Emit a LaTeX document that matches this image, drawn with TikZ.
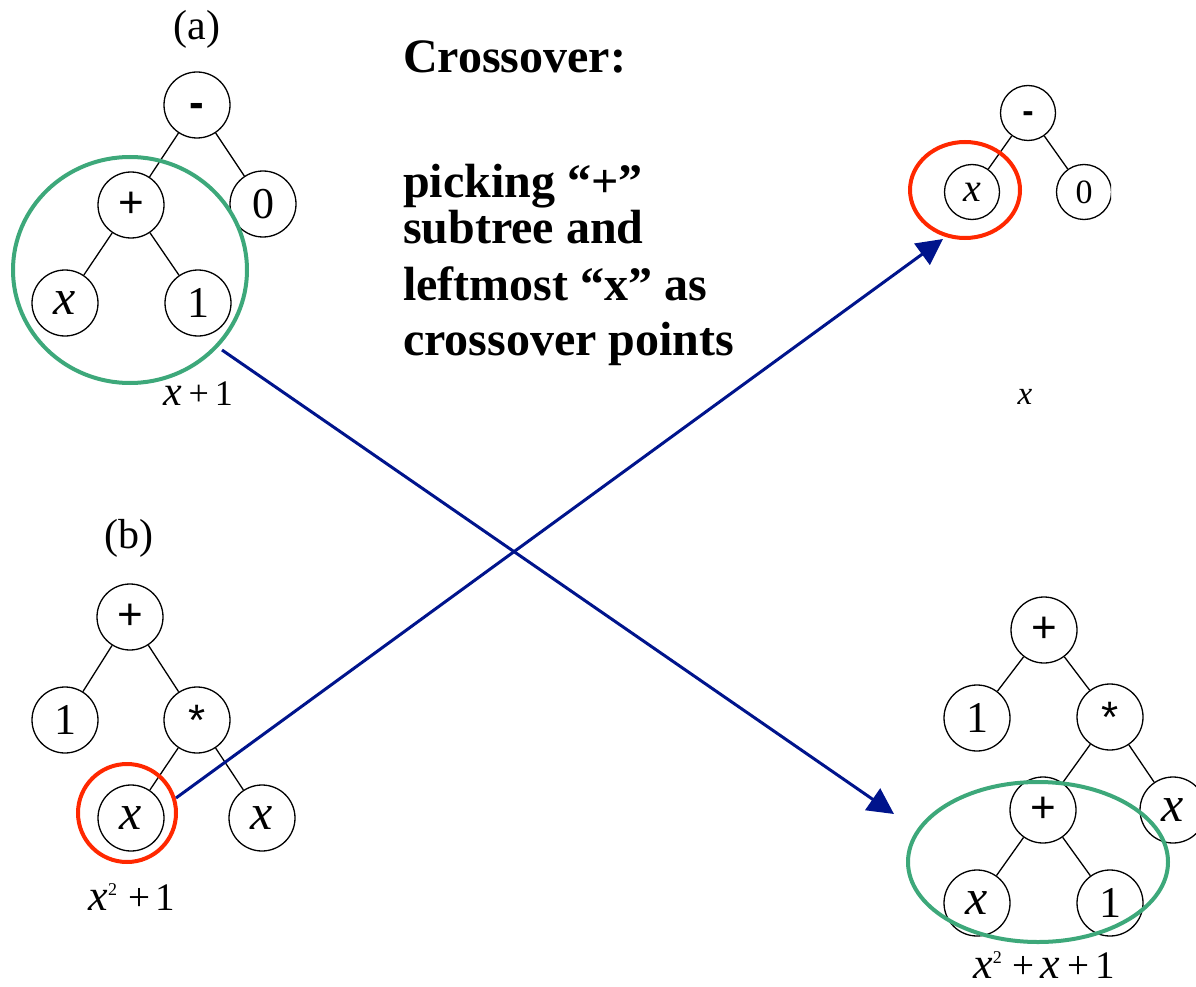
\documentclass[tikz,border=0pt]{standalone}
\usepackage{fontspec}
\setmainfont{Liberation Serif}
\newfontfamily\symfont{Liberation Sans}
\usetikzlibrary{arrows.meta}

\definecolor{ringgreen}{RGB}{61,168,122}
\definecolor{ringred}{RGB}{255,40,0}
\definecolor{arrowblue}{RGB}{0,20,140}

% italic variable at a given size
\newcommand\xv[1]{{\fontsize{#1}{#1}\selectfont\itshape x}}
% small superscript two
\newcommand\sq[1]{\raisebox{#1}{\fontsize{18}{18}\selectfont 2}}
% operator symbols inside tree nodes
\newcommand\opplus{{\symfont +}}
\newcommand\opminus{{\symfont\bfseries\raisebox{0pt}[0.56em][0pt]{-}}}
\newcommand\optimes{{\symfont *}}

\tikzset{
  tnode/.style={circle, draw=black, line width=1.3pt, fill=white,
    minimum size=66pt, inner sep=0pt, font=\fontsize{44}{44}\selectfont},
  tsmall/.style={tnode, minimum size=55pt, font=\fontsize{34}{34}\selectfont},
  tedge/.style={line width=1.3pt},
  greenring/.style={draw=ringgreen, line width=4pt},
  redring/.style={draw=ringred, line width=4pt},
  xarrow/.style={draw=arrowblue, line width=3pt,
    -{Triangle[length=26pt,width=26pt]}},
  treecap/.style={inner sep=0pt, font=\fontsize{36}{36}\selectfont},
  tag/.style={inner sep=0pt, font=\fontsize{42}{42}\selectfont},
  boldline/.style={anchor=base west, inner sep=0pt,
    font=\fontsize{48}{48}\selectfont\bfseries}
}

\begin{document}
\begin{tikzpicture}[x=1pt, y=-1pt]
\useasboundingbox (0,0) rectangle (1196,987);

% ---------- tree (a): x+1 - 0 ----------
\node[tag] (capa) at (197,29) {(a)};
\node[tnode] (a0) at (197,105) {\opminus};
\node[tnode] (a1) at (131,205) {\opplus};
\node[tnode] (a2) at (263,204) {0};
\node[tnode] (a3) at (65,303) {\xv{50}};
\node[tnode] (a4) at (198,303) {1};
\draw[tedge] (a0) -- (a1);
\draw[tedge] (a0) -- (a2);
\draw[tedge] (a1) -- (a3);
\draw[tedge] (a1) -- (a4);
\node[treecap] (fa) at (198,394) {\fontsize{36}{36}\selectfont\xv{42}\hspace{7pt}+\hspace{6pt}1};
\draw[greenring] (130,270) ellipse [x radius=117, y radius=113];

% ---------- tree (b): 1 + x*x ----------
\node[tag] (capb) at (129,538) {(b)};
\node[tnode] (b0) at (130,617) {\opplus};
\node[tnode] (b1) at (65,720) {1};
\node[tnode] (b2) at (197,720) {\optimes};
\node[tnode] (b3) at (131,818) {\xv{50}};
\node[tnode] (b4) at (262,818) {\xv{50}};
\draw[tedge] (b0) -- (b1);
\draw[tedge] (b0) -- (b2);
\draw[tedge] (b2) -- (b3);
\draw[tedge] (b2) -- (b4);
\node[treecap] (fb) at (132,897) {\fontsize{39}{39}\selectfont\xv{44}\sq{15pt}\hspace{11pt}+\hspace{6pt}1};
\draw[redring] (127,813) circle [radius=49];

% ---------- offspring 1: x - 0 ----------
\node[tsmall] (c0) at (1028,113) {\opminus};
\node[tsmall] (c1) at (972,192) {\xv{40}};
\begin{scope}
  \clip (1040,150) rectangle (1111,240);
  \node[tsmall] (c2) at (1084,192) {0};
\end{scope}
\draw[tedge] (c0) -- (c1);
\draw[tedge] (c0) -- (c2);
\draw[redring] (965,190) ellipse [x radius=55, y radius=48];
\node[treecap] (fc) at (1025,397) {\xv{33}};

% ---------- offspring 2: 1 + (x+1)*x ----------
\node[tnode] (d0) at (1044,630) {\opplus};
\node[tnode] (d1) at (977,718) {1};
\node[tnode] (d2) at (1110,717) {\optimes};
\node[tnode] (d3) at (1043,810) {\opplus};
\node[tnode] (d4) at (1173,810) {\xv{50}};
\node[tnode] (d5) at (977,903) {\xv{50}};
\node[tnode] (d6) at (1110,903) {1};
\draw[tedge] (d0) -- (d1);
\draw[tedge] (d0) -- (d2);
\draw[tedge] (d2) -- (d3);
\draw[tedge] (d2) -- (d4);
\draw[tedge] (d3) -- (d5);
\draw[tedge] (d3) -- (d6);
\draw[greenring] (1038,862) ellipse [x radius=130, y radius=80];
\node[treecap] (fd) at (1044,965) {\fontsize{39}{39}\selectfont\xv{44}\sq{15pt}\hspace{11pt}+\hspace{6pt}\xv{44}\hspace{7pt}+\hspace{6pt}1};

% ---------- explanation ----------
\node[boldline] (t0) at (403,73) {Crossover:};
\node[boldline] (t1) at (403,197) {picking “+”};
\node[boldline] (t2) at (403,243) {subtree and};
\node[boldline] (t3) at (403,300) {leftmost “x” as};
\node[boldline] (t4) at (403,355) {crossover points};

% ---------- exchanged subtrees ----------
\coordinate (s1) at (222,350);
\coordinate (e1) at (894,814);
\coordinate (s2) at (176,798);
\coordinate (e2) at (943,239);
\draw[xarrow] (s1) -- (e1);
\draw[xarrow] (s2) -- (e2);
\end{tikzpicture}
\end{document}
